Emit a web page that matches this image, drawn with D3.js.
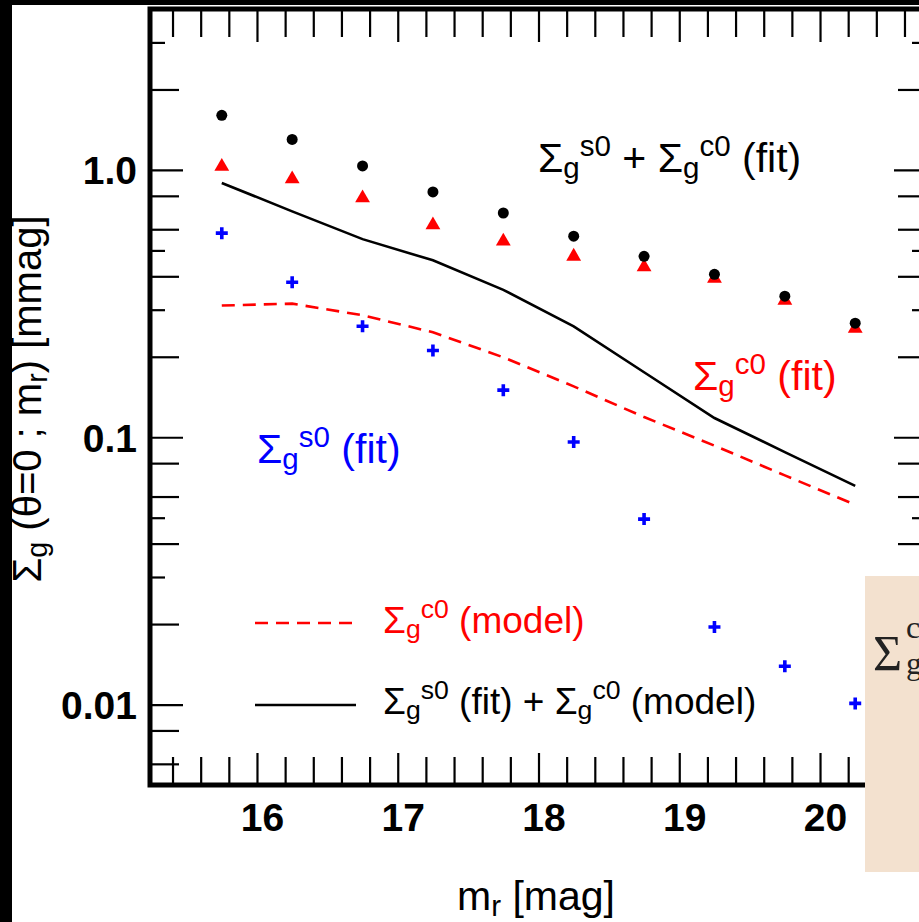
<!DOCTYPE html>
<html>
<head>
<meta charset="utf-8">
<script src="https://cdn.jsdelivr.net/npm/d3@7"></script>
<style>
  html, body { margin: 0; padding: 0; background: #fff; }
  svg { display: block; }
</style>
</head>
<body>
<svg id="chart" width="919" height="922"></svg>
<script>
// ---------------- data ----------------
const mag = [15.75, 16.25, 16.75, 17.25, 17.75, 18.25, 18.75, 19.25, 19.75, 20.25];
const sumFit = [1.60, 1.30, 1.035, 0.827, 0.69, 0.565, 0.475, 0.407, 0.337, 0.267];     // black dots
const cFit = [1.03, 0.925, 0.785, 0.622, 0.541, 0.475, 0.433, 0.393, 0.325, 0.255];     // red triangles
const sFit = [0.58, 0.38, 0.26, 0.211, 0.15, 0.096, 0.0494, 0.0195, 0.0139, 0.0101];   // blue crosses
const cModel = [0.311, 0.316, 0.286, 0.247, 0.199, 0.155, 0.119, 0.093, 0.072, 0.0559]; // red dashed
const sFitCModel = [0.894, 0.70, 0.551, 0.459, 0.356, 0.26, 0.175, 0.118, 0.088, 0.0658]; // black solid

const xMajorTicks = [16, 17, 18, 19, 20];
const xMinorTicks = [15.4, 15.6, 15.8, 16.2, 16.4, 16.6, 16.8, 17.2, 17.4, 17.6, 17.8,
                     18.2, 18.4, 18.6, 18.8, 19.2, 19.4, 19.6, 19.8, 20.2, 20.4, 20.6];
const yMajorTicks = [0.01, 0.1, 1];
const yMajorLabels = ["0.01", "0.1", "1.0"];
const yMediumTicks = [0.006, 0.008, 0.02, 0.04, 0.06, 0.08, 0.2, 0.4, 0.6, 0.8, 2];
const yShortTicks = [0.03, 0.05, 0.3, 0.5, 3];

// ---------------- layout ----------------
const svg = d3.select("#chart");
const L = 150, R = 927, T = 9, B = 785;
const x = d3.scaleLinear().domain([15.24, 20.76]).range([L, R]);
const y = d3.scaleLog().domain([0.005, 4]).range([B, T]);

const sans = "'Liberation Sans', Arial, Helvetica, sans-serif";

// background strips
svg.append("rect").attr("x", 0).attr("y", 0).attr("width", 919).attr("height", 922).attr("fill", "#fff");
svg.append("rect").attr("x", 0).attr("y", 0).attr("width", 919).attr("height", 5).attr("fill", "#000");
svg.append("rect").attr("x", 0).attr("y", 0).attr("width", 12).attr("height", 922).attr("fill", "#000");

// ---------------- axes ----------------
function styleAxis(g) {
  g.select(".domain").remove();
  g.selectAll(".tick line").attr("stroke", "#000").attr("stroke-width", 2.2);
}
// bottom
svg.append("g").attr("transform", `translate(0,${B})`)
  .call(d3.axisBottom(x).tickValues(xMajorTicks).tickSize(-32).tickPadding(18).tickFormat(d3.format("d")))
  .call(styleAxis)
  .call(g => g.selectAll("text").attr("dx", 5).attr("font-family", sans).attr("font-weight", "bold")
    .attr("font-size", 39).attr("fill", "#000"));
svg.append("g").attr("transform", `translate(0,${B})`)
  .call(d3.axisBottom(x).tickValues(xMinorTicks).tickSize(-28).tickFormat(""))
  .call(styleAxis);
// top
svg.append("g").attr("transform", `translate(0,${T})`)
  .call(d3.axisTop(x).tickValues(xMajorTicks).tickSize(-33).tickFormat(""))
  .call(styleAxis);
svg.append("g").attr("transform", `translate(0,${T})`)
  .call(d3.axisTop(x).tickValues(xMinorTicks).tickSize(-28).tickFormat(""))
  .call(styleAxis);
// left
svg.append("g").attr("transform", `translate(${L},0)`)
  .call(d3.axisLeft(y).tickValues(yMajorTicks).tickSize(-33).tickPadding(13)
    .tickFormat((d, i) => yMajorLabels[i]))
  .call(styleAxis)
  .call(g => g.selectAll("text").attr("font-family", sans).attr("font-weight", "bold")
    .attr("font-size", 39).attr("fill", "#000").attr("dy", "0.36em"));
svg.append("g").attr("transform", `translate(${L},0)`)
  .call(d3.axisLeft(y).tickValues(yMediumTicks).tickSize(-29).tickFormat(""))
  .call(styleAxis);
svg.append("g").attr("transform", `translate(${L},0)`)
  .call(d3.axisLeft(y).tickValues(yShortTicks).tickSize(-15).tickFormat(""))
  .call(styleAxis);
// right
svg.append("g").attr("transform", `translate(${R},0)`)
  .call(d3.axisRight(y).tickValues(yMajorTicks).tickSize(-33).tickFormat(""))
  .call(styleAxis);
svg.append("g").attr("transform", `translate(${R},0)`)
  .call(d3.axisRight(y).tickValues(yMediumTicks).tickSize(-29).tickFormat(""))
  .call(styleAxis);
svg.append("g").attr("transform", `translate(${R},0)`)
  .call(d3.axisRight(y).tickValues(yShortTicks).tickSize(-15).tickFormat(""))
  .call(styleAxis);

// frame
svg.append("rect").attr("x", L).attr("y", T).attr("width", R - L).attr("height", B - T)
  .attr("fill", "none").attr("stroke", "#000").attr("stroke-width", 5);

// ---------------- lines ----------------
const line = d3.line().x((d, i) => x(mag[i])).y(d => y(d));
svg.append("path").datum(cModel).attr("d", line).attr("fill", "none")
  .attr("stroke", "#ff0000").attr("stroke-width", 2.6).attr("stroke-dasharray", "13,8");
svg.append("path").datum(sFitCModel).attr("d", line).attr("fill", "none")
  .attr("stroke", "#000").attr("stroke-width", 2.6);

// ---------------- markers ----------------
svg.append("g").selectAll("path").data(cFit).join("path")
  .attr("d", d3.symbol(d3.symbolTriangle, 95))
  .attr("transform", (d, i) => `translate(${x(mag[i])},${y(d)})`)
  .attr("fill", "#ff0000");
svg.append("g").selectAll("circle").data(sumFit).join("circle")
  .attr("cx", (d, i) => x(mag[i])).attr("cy", d => y(d)).attr("r", 5.5).attr("fill", "#000");
svg.append("g").selectAll("path").data(sFit).join("path")
  .attr("d", (d, i) => {
    const cx = x(mag[i]), cy = y(d), h = 6;
    return `M${cx - h},${cy}H${cx + h}M${cx},${cy - h}V${cy + h}`;
  })
  .attr("stroke", "#0000ff").attr("stroke-width", 3.6).attr("fill", "none");

// ---------------- rich text helper ----------------
function richText(px, py, parts, fs, color, anchor, transform) {
  const t = svg.append("text").attr("x", px).attr("y", py)
    .attr("font-family", sans).attr("font-size", fs).attr("fill", color)
    .attr("text-anchor", anchor || "start");
  if (transform) t.attr("transform", transform);
  let cur = 0;
  parts.forEach(([s, mode]) => {
    const target = mode === 1 ? 0.14 * fs : mode === 2 ? -0.40 * fs : 0;
    const sp = t.append("tspan").attr("dy", target - cur).text(s);
    if (mode) sp.attr("font-size", fs * 0.72);
    cur = target;
  });
  return t;
}

// annotations
richText(538, 172, [["Σ", 0], ["g", 1], ["s0", 2], [" + Σ", 0], ["g", 1], ["c0", 2], [" (fit)", 0]], 41, "#000");
richText(257, 463, [["Σ", 0], ["g", 1], ["s0", 2], [" (fit)", 0]], 41, "#0000ff");
richText(693, 390, [["Σ", 0], ["g", 1], ["c0", 2], [" (fit)", 0]], 41, "#ff0000");

// legend
svg.append("line").attr("x1", 255).attr("x2", 356).attr("y1", 623).attr("y2", 623)
  .attr("stroke", "#ff0000").attr("stroke-width", 2.6).attr("stroke-dasharray", "13,8");
richText(383, 633, [["Σ", 0], ["g", 1], ["c0", 2], [" (model)", 0]], 37, "#ff0000");
svg.append("line").attr("x1", 255).attr("x2", 356).attr("y1", 705).attr("y2", 705)
  .attr("stroke", "#000").attr("stroke-width", 2.6);
richText(383, 714, [["Σ", 0], ["g", 1], ["s0", 2], [" (fit) + Σ", 0], ["g", 1], ["c0", 2], [" (model)", 0]], 37, "#000");

// axis titles
richText(0, 0, [["m", 0], ["r", 1], [" [mag]", 0]], 41, "#000", "start", "translate(457,910)");
richText(0, 0, [["Σ", 0], ["g", 1], [" (θ=0 ; m", 0], ["r", 1], [") [mmag]", 0]], 40, "#000", "middle",
  "translate(41,399) rotate(-90)");

// beige panel (neighbouring figure) on the right
svg.append("rect").attr("x", 865).attr("y", 576).attr("width", 60).attr("height", 296).attr("fill", "#f3e1cf");
svg.append("text").attr("x", 873).attr("y", 670).attr("font-family", "'Liberation Serif', 'Times New Roman', serif")
  .attr("font-size", 50).attr("fill", "#222").text("Σ");
svg.append("text").attr("x", 906).attr("y", 638).attr("font-family", "'Liberation Serif', 'Times New Roman', serif")
  .attr("font-size", 32).attr("fill", "#222").text("c");
svg.append("text").attr("x", 906).attr("y", 674).attr("font-family", "'Liberation Serif', 'Times New Roman', serif")
  .attr("font-size", 32).attr("fill", "#222").text("g");
</script>
</body>
</html>
